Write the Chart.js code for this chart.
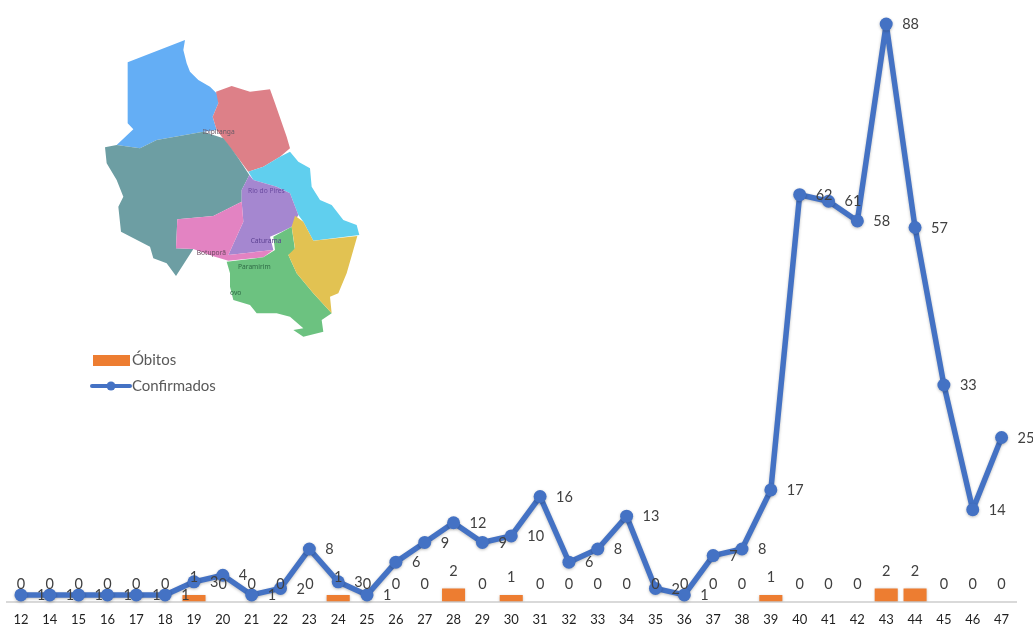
<!DOCTYPE html>
<html lang="pt">
<head>
    <meta charset="UTF-8">
    <title>Óbitos e Confirmados</title>
    <style>
        body { margin: 0; background: #fff; }
        #wrap { position: relative; width: 1033px; height: 626px; overflow: hidden; }
        #graph { position: absolute; left: 0; top: 0; }
        #map { position: absolute; left: 90px; top: 30px; width: 290px; height: 370px; filter: blur(0.35px); }
        #map text { font-family: 'Noto Sans', sans-serif; font-size: 20px; }
    </style>
</head>
<body>
    <div id="wrap">
        <svg id="map" viewBox="0 0 870 1110">
            <polygon fill="#64aef5" points="113,97 285,30 280,60 290,100 300,125 325,150 360,170 385,195 385,220 368,260 380,300 340,305 200,330 150,355 80,345 130,298 113,280"/>
            <polygon fill="#dd8088" points="378,185 425,168 480,185 540,178 555,220 590,320 600,355 570,380 520,410 475,425 445,385 410,340 380,300 368,260 385,220"/>
            <polygon fill="#6d9ea3" points="45,352 80,345 150,355 200,330 340,305 400,325 420,350 445,385 478,435 455,480 455,515 370,558 262,568 258,655 310,657 258,738 230,700 190,685 180,650 93,605 85,530 100,500 80,450 50,400"/>
            <polygon fill="#60cfee" points="475,425 520,410 570,380 600,365 625,395 660,415 665,470 690,510 725,525 760,570 800,585 808,615 670,632 640,575 625,555 600,490 560,470 490,450"/>
            <polygon fill="#a587d0" points="478,435 490,450 560,470 600,490 625,555 605,590 575,605 540,620 550,660 415,675 460,575 455,515 455,480"/>
            <polygon fill="#e383c2" points="262,568 370,558 455,515 460,575 415,675 550,660 520,682 415,692 375,680 310,657 258,655"/>
            <polygon fill="#6cc280" points="410,695 520,682 555,660 550,620 605,590 615,660 595,675 620,730 670,790 725,850 695,870 700,905 640,920 610,900 640,895 600,860 560,850 500,850 480,825 430,810 420,770 420,730"/>
            <polygon fill="#e2c252" points="615,557 640,575 670,632 802,618 770,730 745,790 720,800 725,850 670,790 620,730 595,675 615,655 605,590"/>
            <text x="338" y="312" fill="#6b5a66">Ibipitanga</text>
            <text x="474" y="488" fill="#6a4aa0">Rio do Pires</text>
            <text x="482" y="640" fill="#5a3f90">Caturama</text>
            <text x="320" y="675" fill="#6b4a60">Botuporã</text>
            <text x="444" y="717" fill="#2f6a45">Paramirim</text>
            <text x="420" y="796" fill="#2f6a45">ovo</text>
        </svg>
        <canvas id="graph" width="1033" height="626"></canvas>
    </div>

    <script src="https://cdn.jsdelivr.net/npm/chart.js"></script>
    <script>
        const categories = ['12','14','15','16','17','18','19','20','21','22','23','24','25','26','27','28','29','30','31','32','33','34','35','36','37','38','39','40','41','42','43','44','45','46','47'];
        const confirmados = [1,1,1,1,1,1,3,4,1,2,8,3,1,6,9,12,9,10,16,6,8,13,2,1,7,8,17,62,61,58,88,57,33,14,25];
        const obitos = [0,0,0,0,0,0,1,0,0,0,0,1,0,0,0,2,0,1,0,0,0,0,0,0,0,0,1,0,0,0,2,2,0,0,0];

        const labelFont = "14.5px Lato, sans-serif";
        const legendFont = "15px Lato, sans-serif";

        // soft shadow under the marks, like the office chart
        const shadowPlugin = {
            id: 'softShadow',
            beforeDatasetDraw(chart) {
                const ctx = chart.ctx;
                ctx.save();
                ctx.shadowColor = 'rgba(0,0,0,0.25)';
                ctx.shadowBlur = 3;
                ctx.shadowOffsetY = 1;
            },
            afterDatasetDraw(chart) {
                chart.ctx.restore();
            }
        };

        // value labels: Óbitos above the bar, Confirmados to the right of the point
        const valueLabels = {
            id: 'valueLabels',
            afterDatasetsDraw(chart) {
                const ctx = chart.ctx;
                const bars = chart.getDatasetMeta(0).data;
                const points = chart.getDatasetMeta(1).data;
                ctx.save();
                ctx.font = labelFont;
                ctx.fillStyle = '#404040';
                ctx.textBaseline = 'middle';
                ctx.textAlign = 'left';
                confirmados.forEach(function(v, i) {
                    ctx.fillText(String(v), points[i].x + 16, points[i].y + 0.5);
                });
                ctx.textAlign = 'center';
                obitos.forEach(function(v, i) {
                    ctx.fillText(String(v), bars[i].x, bars[i].y - 17.5);
                });
                ctx.restore();
            }
        };

        // legend sits on top of the plot, under the map
        const floatingLegend = {
            id: 'floatingLegend',
            afterDraw(chart) {
                const ctx = chart.ctx;
                ctx.save();
                ctx.fillStyle = '#ed7d31';
                ctx.fillRect(93, 355, 37, 11);
                ctx.strokeStyle = '#4472c4';
                ctx.fillStyle = '#4472c4';
                ctx.lineWidth = 4;
                ctx.lineCap = 'round';
                ctx.beginPath();
                ctx.moveTo(92, 386);
                ctx.lineTo(130, 386);
                ctx.stroke();
                ctx.beginPath();
                ctx.arc(111, 386, 4.5, 0, Math.PI * 2);
                ctx.fill();
                ctx.font = legendFont;
                ctx.fillStyle = '#595959';
                ctx.textAlign = 'left';
                ctx.textBaseline = 'middle';
                ctx.fillText('Óbitos', 132, 360);
                ctx.fillText('Confirmados', 132, 386);
                ctx.restore();
            }
        };

        new Chart(document.getElementById('graph').getContext('2d'), {
            data: {
                labels: categories,
                datasets: [
                    {
                        type: 'bar',
                        label: 'Óbitos',
                        data: obitos,
                        backgroundColor: '#ed7d31',
                        categoryPercentage: 0.8,
                        barPercentage: 1,
                        order: 2
                    },
                    {
                        type: 'line',
                        label: 'Confirmados',
                        data: confirmados,
                        borderColor: '#4472c4',
                        backgroundColor: '#4472c4',
                        borderWidth: 5.5,
                        borderJoinStyle: 'round',
                        pointRadius: 6.5,
                        pointBackgroundColor: '#4472c4',
                        pointBorderWidth: 0,
                        tension: 0,
                        clip: false,
                        order: 1
                    }
                ]
            },
            options: {
                responsive: false,
                animation: false,
                layout: { padding: { left: 4.5, right: 17, top: 11, bottom: 0 } },
                plugins: { legend: { display: false }, tooltip: { enabled: false } },
                scales: {
                    x: {
                        grid: { display: false },
                        border: { color: '#d9d9d9', width: 2 },
                        ticks: {
                            color: '#1f1f1f',
                            font: { family: 'Lato, sans-serif', size: 13 },
                            padding: 3,
                            autoSkip: false,
                            maxRotation: 0
                        },
                        afterFit(scale) { scale.height = 24.5; }
                    },
                    y: { display: false, min: 0, max: 90 }
                }
            },
            plugins: [shadowPlugin, valueLabels, floatingLegend]
        });
    </script>
</body>
</html>
